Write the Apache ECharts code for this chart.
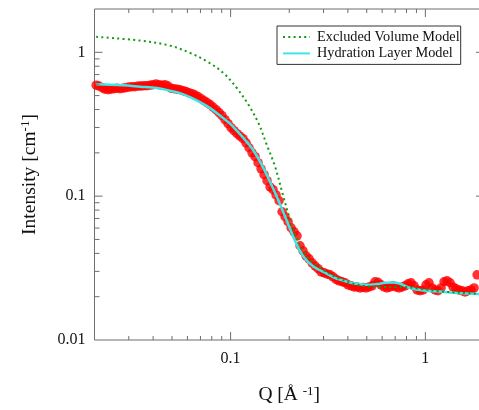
<!DOCTYPE html>
<html><head><meta charset="utf-8">
<script src="https://cdn.jsdelivr.net/npm/echarts@6/dist/echarts.min.js"></script>
<style>html,body{margin:0;padding:0;background:#fff}#c{width:479px;height:410px}</style>
</head><body><div id="c"></div>
<script>
// Measured data (red points)
const dataQ = [0.0204,0.0211,0.0219,0.0226,0.0235,0.0243,0.0252,0.0261,0.0270,0.0280,
0.0290,0.0301,0.0312,0.0323,0.0335,0.0347,0.0359,0.0372,0.0386,0.0399,
0.0414,0.0429,0.0444,0.0460,0.0477,0.0494,0.0512,0.0531,0.0550,0.0570,
0.0590,0.0611,0.0634,0.0656,0.0680,0.0705,0.0730,0.0757,0.0784,0.0812,
0.0841,0.0872,0.0903,0.0936,0.0970,0.1005,0.1041,0.1079,0.1118,0.1158,
0.1200,0.1243,0.1288,0.1335,0.1383,0.1433,0.1485,0.1538,0.1594,0.1651,
0.1711,0.1773,0.1837,0.1903,0.1972,0.2043,0.2117,0.2193,0.2272,0.2354,
0.2439,0.2528,0.2619,0.2713,0.2811,0.2913,0.3018,0.3127,0.3240,0.3356,
0.3477,0.3603,0.3733,0.3868,0.4009,0.4153,0.4303,0.4458,0.4619,0.4786,
0.4959,0.5138,0.5323,0.5516,0.5715,0.5921,0.6135,0.6358,0.6587,0.6825,
0.7072,0.7327,0.7591,0.7866,0.8150,0.8444,0.8749,0.9065,0.9391,0.9730,
1.008,1.044,1.082,1.121,1.162,1.204,1.247,1.292,1.339,1.387,
1.437,1.489,1.543,1.599,1.657,1.717,1.779,1.843];
const dataI = [0.591,0.582,0.568,0.554,0.550,0.554,0.559,0.563,0.559,0.563,
0.568,0.573,0.577,0.577,0.582,0.582,0.586,0.586,0.591,0.596,
0.601,0.596,0.591,0.596,0.582,0.563,0.559,0.554,0.550,0.541,
0.533,0.524,0.516,0.504,0.492,0.476,0.461,0.447,0.433,0.416,
0.399,0.381,0.363,0.340,0.319,0.299,0.285,0.272,0.261,0.251,
0.235,0.217,0.200,0.188,0.171,0.155,0.141,0.128,0.116,0.111,
0.102,0.0929,0.0779,0.0719,0.0664,0.0603,0.0565,0.0530,0.0452,0.0417,
0.0385,0.0367,0.0344,0.0328,0.0313,0.0298,0.0293,0.0288,0.0284,0.0275,
0.0264,0.0258,0.0254,0.0250,0.0242,0.0238,0.0234,0.0234,0.0230,0.0232,
0.0230,0.0234,0.0238,0.0254,0.0252,0.0242,0.0234,0.0230,0.0234,0.0238,
0.0234,0.0230,0.0234,0.0238,0.0246,0.0250,0.0238,0.0223,0.0220,0.0223,
0.0242,0.0250,0.0230,0.0223,0.0220,0.0230,0.0254,0.0258,0.0250,0.0234,
0.0227,0.0223,0.0220,0.0216,0.0220,0.0223,0.0230,0.0284];

// Hydration Layer Model (cyan)
const hydQ = [0.0204,0.0280,0.0343,0.0419,0.0488,0.0550,0.0619,0.0696,0.0784,0.0882,0.0993,0.1075,0.1162,0.1283,0.1416,0.1532,0.1725,0.1903,0.2060,0.2185,0.2363,0.2659,0.2993,0.3369,0.3734,0.4105,0.4512,0.500,0.563,0.621,0.675,0.742,0.835,0.977,1.190,1.450,2.0];
const hydI = [0.599,0.589,0.577,0.565,0.541,0.520,0.488,0.450,0.409,0.363,0.319,0.285,0.254,0.216,0.174,0.141,0.0995,0.0723,0.0554,0.0459,0.0381,0.0324,0.0298,0.0273,0.0260,0.0251,0.0245,0.0242,0.0245,0.0250,0.0251,0.0246,0.0230,0.0221,0.0217,0.0212,0.0208];

// Excluded Volume Model (green dotted)
const exclQ = [0.0204,0.0343,0.0488,0.0619,0.0754,0.0917,0.1075,0.1233,0.1388,0.1532,0.1690,0.1865,0.2019,0.2185,0.2460,0.2993,0.3646,0.4619,0.585,0.742,0.939,1.190,1.507,2.0];
const exclI = [1.282,1.206,1.113,0.990,0.866,0.719,0.565,0.433,0.323,0.228,0.161,0.0995,0.0685,0.0511,0.0381,0.0307,0.0266,0.0240,0.0234,0.0234,0.0227,0.0218,0.0213,0.0208];

// Axis ranges and ticks
const xRange = [0.02, 2];
const yRange = [0.01, 2];
const xLabelValues = [0.1, 1];
const xLabelTexts = ['0.1', '1'];
const yLabelValues = [0.01, 0.1, 1];
const yLabelTexts = ['0.01', '0.1', '1'];
const xMajorTicks = [0.1, 1];
const xMinorTicks = [0.03,0.04,0.05,0.06,0.07,0.08,0.09,0.2,0.3,0.4,0.5,0.6,0.7,0.8,0.9];
const yMajorTicks = [0.1, 1];
const yMinorTicks = [0.02,0.03,0.04,0.05,0.06,0.07,0.08,0.09,0.2,0.3,0.4,0.5,0.6,0.7,0.8,0.9];

const SERIF = "'Liberation Serif','Times New Roman',serif";
const AX = '#6e6e6e';

function labelFor(values, texts) {
  return function (v) {
    for (let i = 0; i < values.length; i++) {
      if (Math.abs(Math.log10(v) - Math.log10(values[i])) < 1e-6) return texts[i];
    }
    return '';
  };
}

const chart = echarts.init(document.getElementById('c'), null, {renderer: 'canvas'});
chart.setOption({
  animation: false,
  backgroundColor: '#fff',
  grid: {left: 94.5, top: 9, width: 389.5, height: 331, show: true, borderColor: AX, borderWidth: 1,
         backgroundColor: 'transparent', containLabel: false, outerBoundsMode: 'none'},
  legend: {
    left: 277, top: 26, orient: 'vertical',
    padding: [4, 1, 4, 5], itemGap: 2.4, itemWidth: 27, itemHeight: 14,
    borderColor: '#333', borderWidth: 1, backgroundColor: '#fff',
    itemStyle: {opacity: 0},
    textStyle: {fontFamily: SERIF, fontSize: 14.3, color: '#111', padding: [0, 0, 0, 2]},
    data: ['Excluded Volume Model', 'Hydration Layer Model']
  },
  xAxis: {
    type: 'log', logBase: 10, min: xRange[0], max: xRange[1],
    axisLine: {show: false}, axisTick: {show: false}, splitLine: {show: false},
    axisLabel: {formatter: labelFor(xLabelValues, xLabelTexts), fontFamily: SERIF, fontSize: 16, color: '#111', margin: 11, showMinLabel: true, showMaxLabel: true},
    name: 'Q [Å {sup|-1}]', nameLocation: 'middle', nameGap: 45,
    nameTextStyle: {fontFamily: SERIF, fontSize: 19.5, color: '#111', rich: {sup: {fontFamily: SERIF, fontSize: 13, color: '#111', verticalAlign: 'top', padding: [0, 0, 7, 0]}}}
  },
  yAxis: {
    type: 'log', logBase: 10, min: yRange[0], max: yRange[1],
    axisLine: {show: false}, axisTick: {show: false}, splitLine: {show: false},
    axisLabel: {formatter: labelFor(yLabelValues, yLabelTexts), fontFamily: SERIF, fontSize: 16, color: '#111', margin: 9, showMinLabel: true, showMaxLabel: true},
    name: 'Intensity [cm{sup|-1}]', nameLocation: 'middle', nameGap: 55,
    nameTextStyle: {fontFamily: SERIF, fontSize: 19.5, color: '#111', rich: {sup: {fontFamily: SERIF, fontSize: 13, color: '#111', verticalAlign: 'top', padding: [0, 0, 7, 0]}}}
  },
  series: [
    {
      name: 'Data', type: 'scatter', symbol: 'circle', symbolSize: 9.5,
      itemStyle: {color: '#ff0000'}, z: 2,
      data: dataQ.map((q, i) => [q, dataI[i]])
    },
    {
      name: 'Hydration Layer Model', type: 'line', symbol: 'none', showSymbol: false,
      smooth: 0.35,
      lineStyle: {color: '#3fe6e6', width: 2.5}, itemStyle: {color: '#3fe6e6'}, z: 3,
      data: hydQ.map((q, i) => [q, hydI[i]])
    },
    {
      name: 'Excluded Volume Model', type: 'line', symbol: 'none', showSymbol: false,
      smooth: 0.35,
      lineStyle: {color: '#129a12', width: 2, type: [2, 3.3]}, itemStyle: {color: '#129a12'}, z: 4,
      data: exclQ.map((q, i) => [q, exclI[i]])
    },
    {
      type: 'custom', silent: true, z: 5, clip: false,
      data: xMinorTicks.map(v => [v, 1, 0]).concat(xMajorTicks.map(v => [v, 1, 1])),
      encode: {x: 0, y: 1},
      renderItem: function (params, api) {
        const v = api.value(0), major = api.value(2);
        const b = api.coord([v, yRange[0]]), t = api.coord([v, yRange[1]]);
        const len = major ? 8 : 4;
        const st = {stroke: AX, lineWidth: 1};
        return {type: 'group', children: [
          {type: 'line', shape: {x1: b[0], y1: b[1], x2: b[0], y2: b[1] - len}, style: st},
          {type: 'line', shape: {x1: t[0], y1: t[1], x2: t[0], y2: t[1] + len}, style: st}
        ]};
      }
    },
    {
      type: 'custom', silent: true, z: 5, clip: false,
      data: yMinorTicks.map(v => [0.1, v, 0]).concat(yMajorTicks.map(v => [0.1, v, 1])),
      encode: {x: 0, y: 1},
      renderItem: function (params, api) {
        const v = api.value(1), major = api.value(2);
        const l = api.coord([xRange[0], v]), r = api.coord([xRange[1], v]);
        const len = major ? 8 : 5;
        const st = {stroke: AX, lineWidth: 1};
        return {type: 'group', children: [
          {type: 'line', shape: {x1: l[0], y1: l[1], x2: l[0] + len, y2: l[1]}, style: st},
          {type: 'line', shape: {x1: r[0], y1: r[1], x2: r[0] - len, y2: r[1]}, style: st}
        ]};
      }
    }
  ]
});
</script></body></html>
